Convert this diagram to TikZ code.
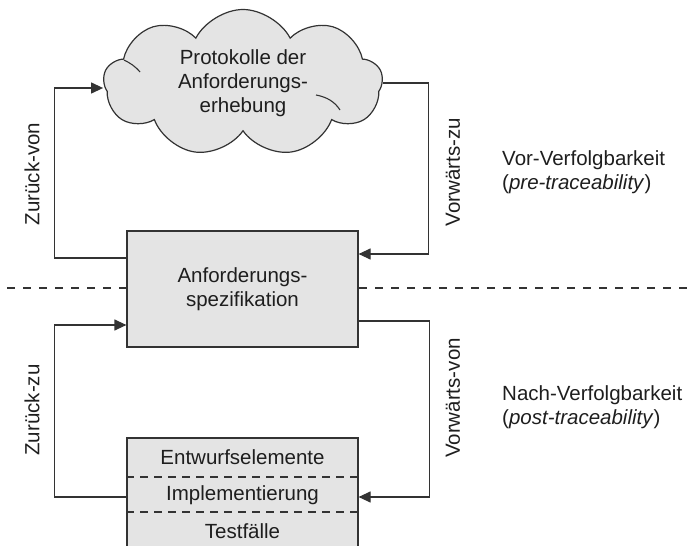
\documentclass[tikz,border=0pt]{standalone}
\usepackage{fontspec}
\setmainfont{Liberation Sans}
\usetikzlibrary{arrows.meta,shapes.symbols}
\definecolor{linegray}{HTML}{333333}
\definecolor{boxfill}{HTML}{E4E4E4}
\definecolor{txt}{HTML}{1E1E1E}
\begin{document}
\begin{tikzpicture}[x=1pt,y=-1pt,
  every node/.style={font=\fontsize{20.5}{24}\selectfont,text=txt},
  artefact/.style={draw=linegray,line width=1.2pt,fill=boxfill,inner sep=0pt},
  conn/.style={draw=linegray,line width=1.2pt},
  arr/.style={conn,-{Triangle[length=12pt,width=11pt]}},
  curl/.style={draw=linegray,line width=1.1pt},
  sep/.style={draw=linegray,line width=1.1pt,dash pattern=on 8pt off 6pt},
  level/.style={draw=linegray,line width=1.1pt,dash pattern=on 8pt off 8pt},
  tracelabel/.style={rotate=90,inner sep=0pt},
  phase/.style={align=left,anchor=west,inner sep=0pt}]
\useasboundingbox (0,0) rectangle (696,546);

% boundary between pre- and post-traceability
\draw[level] (7,288) -- (692,288);

% elicitation records
\node[artefact,cloud,cloud puffs=9,cloud puff arc=125,aspect=1.9,
      minimum width=279pt,minimum height=147pt,align=center] (cloud) at (243,83)
  {Protokolle der\\Anforderungs-\\erhebung};
% small inner strokes of the cloud outline
\draw[curl] (124,60) .. controls (130,63) and (135,66) .. (140,72);
\draw[curl] (316,95) .. controls (327,97) and (335,102) .. (340,110);

% requirements specification
\node[artefact,minimum width=231pt,minimum height=116pt,align=center] (spec) at (242.5,289)
  {Anforderungs-\\spezifikation};

% downstream artefacts
\node[artefact,minimum width=231pt,minimum height=112pt] (impl) at (242.5,494) {};
\draw[sep] (impl.west |- 0,477) -- (impl.east |- 0,477);
\draw[sep] (impl.west |- 0,512) -- (impl.east |- 0,512);
\node (design) at (242.5,457) {Entwurfselemente};
\node (code) at (242.5,495) {Implementierung};
\node (tests) at (242.5,531) {Testfälle};
\coordinate (implrow) at (242.5,497);

% trace links
\draw[arr] ([yshift=31pt]spec.west) -- ++(-72pt,0) |- ([yshift=-5pt]cloud.west);
\draw[arr] (cloud.east) -- ++(46pt,0) |- ([yshift=35pt]spec.east);
\draw[arr] ([yshift=-32pt]spec.east) -- ++(71pt,0) |- (impl.east |- implrow);
\draw[arr] (impl.west |- implrow) -- ++(-72pt,0) |- ([yshift=-36pt]spec.west);

% link labels
\node[tracelabel] (lzv) at (32,174) {Zurück-von};
\node[tracelabel] (lvz) at (453,172) {Vorwärts-zu};
\node[tracelabel] (lzz) at (32,410) {Zurück-zu};
\node[tracelabel] (lvv) at (453,398) {Vorwärts-von};

% phase labels
\node[phase] (pre) at (502,172) {Vor-Verfolgbarkeit\\(\textit{pre-traceability})};
\node[phase] (post) at (502,407) {Nach-Verfolgbarkeit\\(\textit{post-traceability})};
\end{tikzpicture}
\end{document}
